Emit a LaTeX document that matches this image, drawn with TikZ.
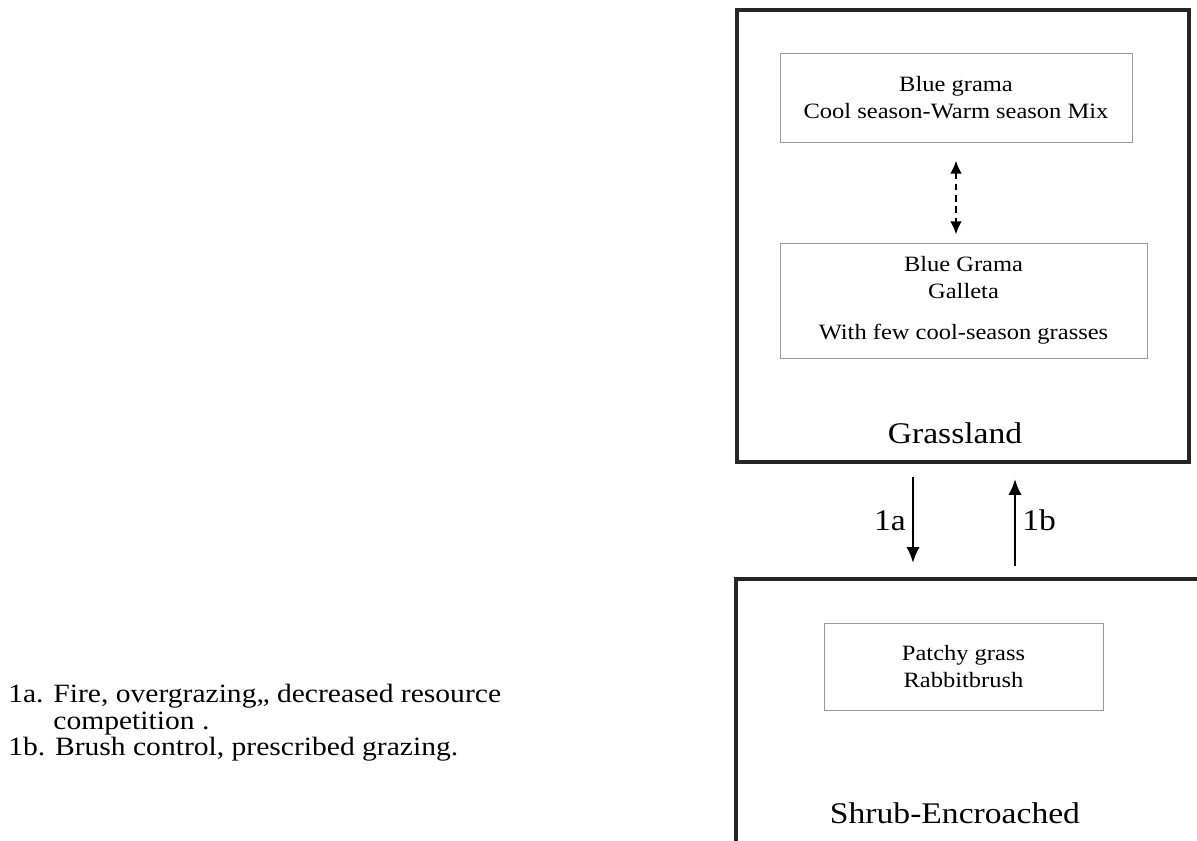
\documentclass[tikz,border=0pt]{standalone}
\usepackage{fontspec}
\setmainfont[FakeStretch=1.12]{Liberation Serif}
\usetikzlibrary{arrows.meta,calc,positioning}
\tikzset{
    phasebox/.style={
        draw=black!85, line width=2.7pt, inner sep=0pt
    },
    statebox/.style={
        draw=black!40, line width=0.6pt, align=center, inner sep=0pt,
        font=\fontsize{16.4}{20}\selectfont
    },
    phaselabel/.style={
        font=\fontsize{22.5}{26}\selectfont
    },
    flow/.style={
        line width=2.2pt, -{Latex[length=12pt,width=10pt]}
    },
    swap flow/.style={
        line width=2pt, dash pattern=on 5pt off 3.5pt,
        {Latex[length=10pt,width=9pt]}-{Latex[length=10pt,width=9pt]}
    },
}
\begin{document}
\begin{tikzpicture}[x=0.75pt, y=-0.75pt]
    \useasboundingbox (0,0) rectangle (1197,841);
    \clip (0,0) rectangle (1197,841);
    % grassland phase
    \node[phasebox, minimum width=339pt, minimum height=339pt] (grass) at (963,236) {};
    \node[statebox, minimum width=264pt, minimum height=66.75pt] (blue) at (956,97.5)
        {Blue grama\\Cool season-Warm season Mix};
    \node[statebox, minimum width=275.25pt, minimum height=86.25pt] (galleta) at (963.5,300.5)
        {Blue Grama\\Galleta\\[11pt]With few cool-season grasses};
    \node[phaselabel] (grasslbl) at (955,433) {Grassland};
    \draw[swap flow, shorten <=13.5pt, shorten >=6pt] (blue.south) -- (blue.south |- galleta.north);
    % shrub-encroached phase
    \node[phasebox, minimum width=351.75pt, minimum height=201.75pt] (shrub) at (970.5,713.5) {};
    \node[statebox, minimum width=209.25pt, minimum height=65.25pt] (patchy) at (963.5,666.5)
        {Patchy grass\\Rabbitbrush};
    \node[phaselabel] (shrublbl) at (955,813) {Shrub-Encroached};
    % transitions
    \coordinate (t1a) at (913,0);
    \coordinate (t1b) at (1015,0);
    \draw[flow, shorten <=9.75pt, shorten >=10.5pt] (grass.south -| t1a) --
        node[phaselabel, left=1pt] (lbl1a) {1a} (shrub.north -| t1a);
    \draw[flow, shorten <=8.25pt, shorten >=11.25pt] (shrub.north -| t1b) --
        node[phaselabel, right=1pt] (lbl1b) {1b} (grass.south -| t1b);
    % legend
    \node[align=left, anchor=north west, inner sep=0pt, font=\fontsize{19.8}{20}\selectfont] (legend) at (8,684)
        {1a. Fire, overgrazing,, decreased resource\\
         \phantom{1a. }competition .\\
         1b. Brush control, prescribed grazing.};
\end{tikzpicture}
\end{document}
